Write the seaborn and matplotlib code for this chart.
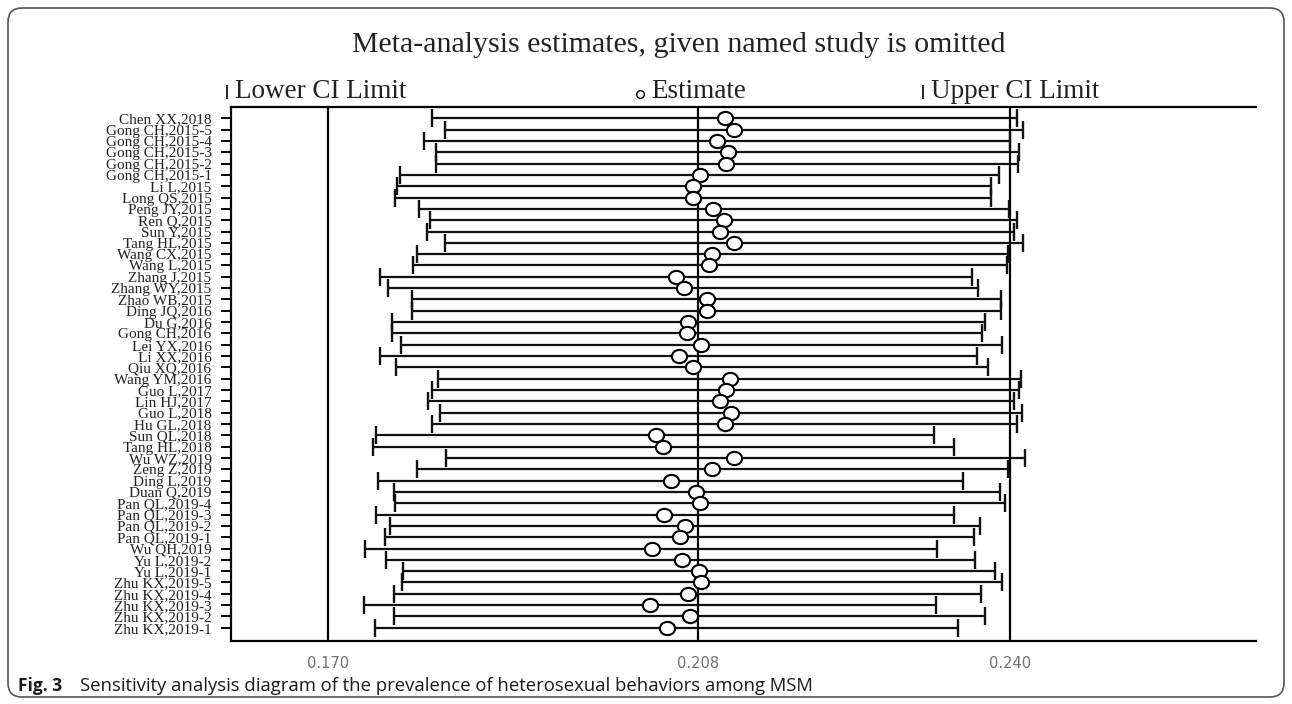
import numpy as np
import pandas as pd
import matplotlib
matplotlib.use("Agg")
import matplotlib.pyplot as plt
import seaborn as sns
from matplotlib.patches import FancyBboxPatch
from matplotlib.lines import Line2D
from matplotlib.path import Path
from matplotlib.transforms import Affine2D

# Leave-one-out sensitivity analysis: pooled prevalence with each study omitted
studies = [
    "Chen XX,2018", "Gong CH,2015-5", "Gong CH,2015-4", "Gong CH,2015-3",
    "Gong CH,2015-2", "Gong CH,2015-1", "Li L,2015", "Long QS,2015",
    "Peng JY,2015", "Ren Q,2015", "Sun Y,2015", "Tang HL,2015",
    "Wang CX,2015", "Wang L,2015", "Zhang J,2015", "Zhang WY,2015",
    "Zhao WB,2015", "Ding JQ,2016", "Du G,2016", "Gong CH,2016",
    "Lei YX,2016", "Li XX,2016", "Qiu XQ,2016", "Wang YM,2016",
    "Guo L,2017", "Lin HJ,2017", "Guo L,2018", "Hu GL,2018",
    "Sun QL,2018", "Tang HL,2018", "Wu WZ,2019", "Zeng Z,2019",
    "Ding L,2019", "Duan Q,2019", "Pan QL,2019-4", "Pan QL,2019-3",
    "Pan QL,2019-2", "Pan QL,2019-1", "Wu QH,2019", "Yu L,2019-2",
    "Yu L,2019-1", "Zhu KX,2019-5", "Zhu KX,2019-4", "Zhu KX,2019-3",
    "Zhu KX,2019-2", "Zhu KX,2019-1",
]

estimate = [
    0.2107, 0.2117, 0.2099, 0.2110, 0.2108, 0.2082, 0.2075, 0.2075,
    0.2095, 0.2106, 0.2102, 0.2117, 0.2094, 0.2091, 0.2057, 0.2065,
    0.2089, 0.2089, 0.2069, 0.2068, 0.2083, 0.2060, 0.2074, 0.2112,
    0.2108, 0.2102, 0.2114, 0.2107, 0.2036, 0.2044, 0.2117, 0.2094,
    0.2052, 0.2078, 0.2082, 0.2045, 0.2066, 0.2061, 0.2032, 0.2063,
    0.2081, 0.2083, 0.2069, 0.2030, 0.2071, 0.2048,
]

lower_ci = [
    0.1806, 0.1820, 0.1798, 0.1811, 0.1811, 0.1774, 0.1771, 0.1769,
    0.1793, 0.1804, 0.1801, 0.1820, 0.1791, 0.1787, 0.1753, 0.1761,
    0.1786, 0.1786, 0.1765, 0.1765, 0.1775, 0.1753, 0.1770, 0.1813,
    0.1807, 0.1802, 0.1815, 0.1807, 0.1749, 0.1746, 0.1821, 0.1791,
    0.1751, 0.1767, 0.1768, 0.1749, 0.1763, 0.1758, 0.1738, 0.1759,
    0.1777, 0.1776, 0.1767, 0.1737, 0.1767, 0.1748,
]

upper_ci = [
    0.2407, 0.2413, 0.2400, 0.2409, 0.2408, 0.2389, 0.2380, 0.2381,
    0.2399, 0.2407, 0.2404, 0.2413, 0.2398, 0.2397, 0.2361, 0.2367,
    0.2391, 0.2391, 0.2374, 0.2371, 0.2392, 0.2366, 0.2377, 0.2411,
    0.2409, 0.2404, 0.2412, 0.2407, 0.2322, 0.2342, 0.2415, 0.2398,
    0.2352, 0.2390, 0.2395, 0.2342, 0.2369, 0.2363, 0.2325, 0.2364,
    0.2385, 0.2392, 0.2370, 0.2324, 0.2374, 0.2347,
]

# Pooled estimate with all studies: lower limit, estimate, upper limit
pooled = [0.170, 0.208, 0.240]
pooled_labels = ["0.170", "0.208", "0.240"]

df = pd.DataFrame({
    "study": studies,
    "estimate": estimate,
    "lower": lower_ci,
    "upper": upper_ci,
})
df["row"] = np.arange(len(df))

sns.set_theme(style="white")
plt.rcParams["font.family"] = ["Liberation Serif", "DejaVu Serif"]

W, H = 1292, 704
fig = plt.figure(figsize=(W / 100, H / 100), dpi=100)
fig.patch.set_facecolor("white")

ax = fig.add_axes([231 / W, 1 - 641 / H, (1256 - 231) / W, (641 - 107) / H])
ax.set_facecolor("white")

# reference lines for the pooled result
for v in pooled:
    ax.axvline(v, color="black", lw=1.6, zorder=1)

# intervals with end caps
ax.errorbar(
    df["estimate"], df["row"],
    xerr=[df["estimate"] - df["lower"], df["upper"] - df["estimate"]],
    fmt="none", ecolor="#111111", elinewidth=1.6, capsize=6.5, capthick=1.7,
    zorder=2,
)

# point estimates drawn as slightly wide open ellipses
ellipse = Path.unit_circle().transformed(Affine2D().scale(1.15, 1.0))
sns.scatterplot(
    data=df, x="estimate", y="row", ax=ax, marker=ellipse, s=120,
    color="white", edgecolor="black", linewidth=1.5, zorder=3, legend=False,
)

ax.set_xlim(0.16001, 0.26526)
ax.set_ylim(len(df) - 1 + 1.17, -1.0)

ax.set_yticks(df["row"])
ax.set_yticklabels(df["study"])
ax.tick_params(axis="y", left=True, direction="out", length=7, width=1.4,
               color="black", labelsize=11, pad=7, labelcolor="#222222")

ax.set_xticks(pooled)
ax.set_xticklabels(pooled_labels)
ax.tick_params(axis="x", bottom=True, length=0, labelsize=10.5, pad=11,
               labelcolor="#707070")
for lab in ax.get_xticklabels():
    lab.set_fontfamily(["DejaVu Sans"])

ax.set_xlabel("")
ax.set_ylabel("")

for side in ["left", "bottom", "top"]:
    ax.spines[side].set_visible(True)
    ax.spines[side].set_color("black")
    ax.spines[side].set_linewidth(1.6)
ax.spines["right"].set_visible(False)

# title and key
fig.text(679 / W, 1 - 45 / H, "Meta-analysis estimates, given named study is omitted",
         ha="center", va="center", fontsize=21.5, color="#222222")

key_y = 1 - 92 / H
fig.add_artist(Line2D([227 / W], [key_y], marker="|", markersize=10, mew=1.2,
                      color="black", transform=fig.transFigure))
fig.text(235 / W, key_y, "Lower CI Limit", ha="left", va="center",
         fontsize=19.5, color="#222222")
fig.add_artist(Line2D([640 / W], [key_y - 2 / H], marker="o", markersize=5.5,
                      mew=1.0, mfc="white", mec="black",
                      transform=fig.transFigure))
fig.text(651 / W, key_y, "Estimate", ha="left", va="center",
         fontsize=19.5, color="#222222")
fig.add_artist(Line2D([923 / W], [key_y], marker="|", markersize=10, mew=1.2,
                      color="black", transform=fig.transFigure))
fig.text(931 / W, key_y, "Upper CI Limit", ha="left", va="center",
         fontsize=19.5, color="#222222")

# caption
fig.text(18 / W, 1 - 686 / H, "Fig. 3", ha="left", va="center",
         fontsize=12.5, fontweight="bold", family=["Open Sans", "DejaVu Sans"],
         color="#1a1a1a")
fig.text(80 / W, 1 - 686 / H,
         "Sensitivity analysis diagram of the prevalence of heterosexual behaviors among MSM",
         ha="left", va="center", fontsize=13.3, family=["Open Sans", "DejaVu Sans"],
         color="#1a1a1a")

# rounded outer frame
frame = FancyBboxPatch((8, 7), W - 16, H - 15,
                       boxstyle="round,pad=0,rounding_size=14",
                       transform=None, fill=False, ec="#555555", lw=1.2)
fig.add_artist(frame)

fig.savefig("out.png", dpi=100)
